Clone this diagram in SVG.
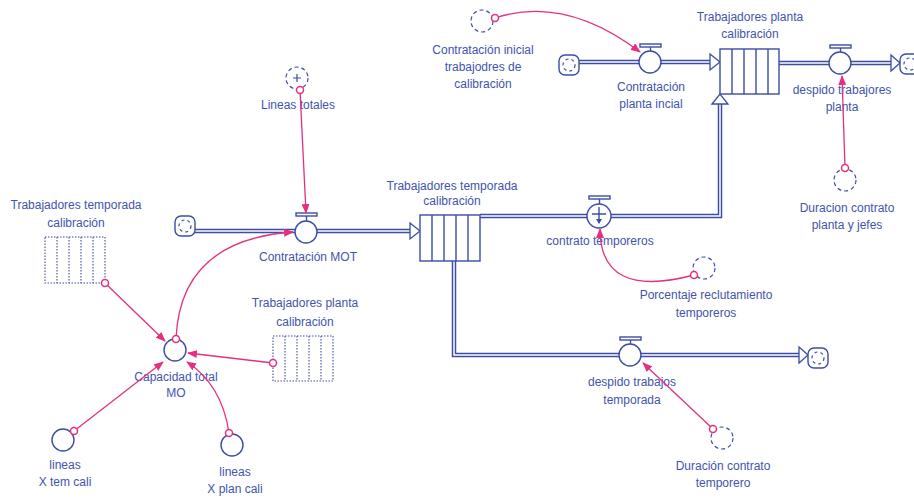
<svg xmlns="http://www.w3.org/2000/svg" width="914" height="500" viewBox="0 0 914 500">
  <style>
    .lbl { font-family: "Liberation Sans", Arial, sans-serif; font-size: 12px; fill: #4353AE; text-anchor: middle; }
    .pipe-o { fill: none; stroke: #3C4DA4; stroke-width: 4.5; stroke-linejoin: miter; }
    .pipe-i { fill: none; stroke: #ffffff; stroke-width: 1.5; stroke-linejoin: miter; }
    .phead { fill: #ffffff; stroke: #3C4DA4; stroke-width: 1.3; stroke-linejoin: miter; }
    .valve { fill: #ffffff; stroke: #3C4DA4; stroke-width: 1.4; }
    .stock { fill: #ffffff; stroke: #3C4DA4; stroke-width: 1.4; }
    .ghost { fill: #ffffff; stroke: #3C4DA4; stroke-width: 1.1; stroke-dasharray: 1.5 1.5; }
    .aux { fill: #ffffff; stroke: #3C4DA4; stroke-width: 1.4; }
    .auxg { fill: #ffffff; stroke: #3C4DA4; stroke-width: 1.2; stroke-dasharray: 4 3; }
    .cloud { fill: #ffffff; stroke: #3C4DA4; stroke-width: 1.4; }
    .cloudi { fill: none; stroke: #3C4DA4; stroke-width: 1.2; stroke-dasharray: 3 3; }
    .link { fill: none; stroke: #E4307F; stroke-width: 1.3; marker-end: url(#lh); }
    .lo { fill: #ffffff; stroke: #E4307F; stroke-width: 1.5; }
  </style>
  <defs>
    <marker id="lh" markerWidth="10" markerHeight="8" refX="9" refY="4" orient="auto" markerUnits="userSpaceOnUse">
      <path d="M0,0 L10,4 L0,8 Z" fill="#E4307F"/>
    </marker>
    <g id="cloudShape">
      <rect x="-10" y="-10" width="20" height="20" rx="6" class="cloud"/>
      <circle r="6" class="cloudi"/>
    </g>
  </defs>
  <rect width="914" height="500" fill="#ffffff"/>

  <!-- material flows (pipes) -->
  <g id="pipes">
    <path class="pipe-o" d="M195,231 L410,231"/>
    <path class="pipe-i" d="M195,231 L410,231"/>
    <path class="pipe-o" d="M480,216 L720,216 L720,104"/>
    <path class="pipe-i" d="M480,216 L720,216 L720,104"/>
    <path class="pipe-o" d="M454,261 L454,355 L799,355"/>
    <path class="pipe-i" d="M454,261 L454,355 L799,355"/>
    <path class="pipe-o" d="M579,62 L710,62"/>
    <path class="pipe-i" d="M579,62 L710,62"/>
    <path class="pipe-o" d="M779,63 L891,63"/>
    <path class="pipe-i" d="M779,63 L891,63"/>
    <polygon class="phead" points="410,223 420,231 410,239"/>
    <polygon class="phead" points="710,54 720,62 710,70"/>
    <polygon class="phead" points="712,104 720,94 728,104"/>
    <polygon class="phead" points="891,55 900,63 891,71"/>
    <polygon class="phead" points="799,347 808,355 799,363"/>
  </g>

  <!-- clouds -->
  <g id="cloud-mot"><use href="#cloudShape" x="185" y="226"/></g>
  <g id="cloud-planta-in"><use href="#cloudShape" x="569" y="65"/></g>
  <g id="cloud-planta-out"><use href="#cloudShape" x="910" y="64"/></g>
  <g id="cloud-temp-out"><use href="#cloudShape" x="818" y="358"/></g>

  <!-- stocks -->
  <g id="stock-temporada">
    <rect class="stock" x="420" y="215" width="60" height="46"/>
    <path class="stock" d="M432,215 V261 M444,215 V261 M456,215 V261 M468,215 V261"/>
    <text class="lbl" x="452" y="190">Trabajadores temporada</text>
    <text class="lbl" x="452" y="205">calibración</text>
  </g>
  <g id="stock-planta">
    <rect class="stock" x="720" y="49" width="59" height="45"/>
    <path class="stock" d="M732,49 V94 M744,49 V94 M756,49 V94 M768,49 V94"/>
    <text class="lbl" x="750" y="21">Trabajadores planta</text>
    <text class="lbl" x="750" y="38">calibración</text>
  </g>
  <g id="ghost-temporada">
    <rect class="ghost" x="45" y="237" width="60" height="46"/>
    <path class="ghost" d="M57,237 V283 M69,237 V283 M81,237 V283 M93,237 V283"/>
    <text class="lbl" x="76" y="209">Trabajadores temporada</text>
    <text class="lbl" x="76" y="227">calibración</text>
  </g>
  <g id="ghost-planta">
    <rect class="ghost" x="273" y="336" width="60" height="45"/>
    <path class="ghost" d="M285,336 V381 M297,336 V381 M309,336 V381 M321,336 V381"/>
    <text class="lbl" x="305" y="307">Trabajadores planta</text>
    <text class="lbl" x="305" y="326">calibración</text>
  </g>

  <!-- flow valves -->
  <g id="valve-contratacion-mot">
    <rect class="valve" x="296" y="213" width="21" height="3"/>
    <line class="valve" x1="306.5" y1="216" x2="306.5" y2="221"/>
    <circle class="valve" cx="306" cy="232" r="11"/>
    <text class="lbl" x="308" y="261">Contratación MOT</text>
  </g>
  <g id="valve-contratacion-planta">
    <rect class="valve" x="640" y="44" width="21" height="3"/>
    <line class="valve" x1="650.5" y1="47" x2="650.5" y2="51"/>
    <circle class="valve" cx="650" cy="62" r="11"/>
    <text class="lbl" x="651" y="91">Contratación</text>
    <text class="lbl" x="651" y="108">planta incial</text>
  </g>
  <g id="valve-despido-planta">
    <rect class="valve" x="830" y="45" width="21" height="3"/>
    <line class="valve" x1="840.5" y1="48" x2="840.5" y2="52"/>
    <circle class="valve" cx="840" cy="63" r="11"/>
    <text class="lbl" x="842" y="94">despido trabajores</text>
    <text class="lbl" x="842" y="111">planta</text>
  </g>
  <g id="valve-contrato-temporeros">
    <rect class="valve" x="589" y="196" width="21" height="3"/>
    <line class="valve" x1="599.5" y1="199" x2="599.5" y2="204"/>
    <circle class="valve" cx="599" cy="216" r="12"/>
    <path class="valve" d="M592,214 H606 M599,207 V223"/>
    <path d="M596,219 L599,224 L602,219 Z" fill="#3C4DA4"/>
    <text class="lbl" x="600" y="245">contrato temporeros</text>
  </g>
  <g id="valve-despido-temporada">
    <rect class="valve" x="620" y="337" width="21" height="3"/>
    <line class="valve" x1="630.5" y1="340" x2="630.5" y2="344"/>
    <circle class="valve" cx="630" cy="355" r="11"/>
    <text class="lbl" x="632" y="386">despido trabajos</text>
    <text class="lbl" x="632" y="404">temporada</text>
  </g>

  <!-- auxiliaries -->
  <g id="aux-lineas-totales">
    <circle class="auxg" cx="297" cy="78" r="11"/>
    <path d="M293,78 H301 M297,74 V82" stroke="#3C4DA4" stroke-width="1.2"/>
    <text class="lbl" x="298" y="109">Lineas totales</text>
  </g>
  <g id="aux-contratacion-inicial">
    <circle class="auxg" cx="482" cy="21" r="11"/>
    <text class="lbl" x="483" y="54">Contratación inicial</text>
    <text class="lbl" x="483" y="71">trabajodres de</text>
    <text class="lbl" x="483" y="88">calibración</text>
  </g>
  <g id="aux-duracion-planta">
    <circle class="auxg" cx="845" cy="180" r="11"/>
    <text class="lbl" x="847" y="212">Duracion contrato</text>
    <text class="lbl" x="847" y="229">planta y jefes</text>
  </g>
  <g id="aux-porcentaje">
    <circle class="auxg" cx="704" cy="268" r="11"/>
    <text class="lbl" x="706" y="299">Porcentaje reclutamiento</text>
    <text class="lbl" x="706" y="317">temporeros</text>
  </g>
  <g id="aux-duracion-temporero">
    <circle class="auxg" cx="722" cy="438" r="11"/>
    <text class="lbl" x="723" y="470">Duración contrato</text>
    <text class="lbl" x="723" y="487">temporero</text>
  </g>
  <g id="aux-capacidad">
    <circle class="aux" cx="175" cy="350" r="11"/>
    <text class="lbl" x="176" y="381">Capacidad total</text>
    <text class="lbl" x="176" y="397">MO</text>
  </g>
  <g id="aux-lineas-tem">
    <circle class="aux" cx="63" cy="440" r="11"/>
    <text class="lbl" x="65" y="469">lineas</text>
    <text class="lbl" x="65" y="486">X tem cali</text>
  </g>
  <g id="aux-lineas-plan">
    <circle class="aux" cx="232" cy="445" r="11"/>
    <text class="lbl" x="235" y="476">lineas</text>
    <text class="lbl" x="235" y="493">X plan cali</text>
  </g>

  <!-- information links -->
  <g id="links">
    <path class="link" d="M300,90 L306,213"/>
    <path class="link" d="M495,18 Q565,-5 640,52"/>
    <path class="link" d="M845,168 L842,76"/>
    <path class="link" d="M694,275 Q600,300 600,229"/>
    <path class="link" d="M713,429 L643,363"/>
    <path class="link" d="M176,339 Q180,240 293,232"/>
    <path class="link" d="M105,283 L165,341"/>
    <path class="link" d="M273,363 L188,353"/>
    <path class="link" d="M74,431 L163,362"/>
    <path class="link" d="M229,433 Q222,385 187,362"/>
    <circle class="lo" cx="300" cy="90" r="3.5"/>
    <circle class="lo" cx="495" cy="18" r="3.5"/>
    <circle class="lo" cx="845" cy="168" r="3.5"/>
    <circle class="lo" cx="694" cy="275" r="3.5"/>
    <circle class="lo" cx="713" cy="429" r="3.5"/>
    <circle class="lo" cx="176" cy="339" r="3.5"/>
    <circle class="lo" cx="105" cy="283" r="3.5"/>
    <circle class="lo" cx="273" cy="363" r="3.5"/>
    <circle class="lo" cx="74" cy="431" r="3.5"/>
    <circle class="lo" cx="229" cy="433" r="3.5"/>
  </g>
</svg>
